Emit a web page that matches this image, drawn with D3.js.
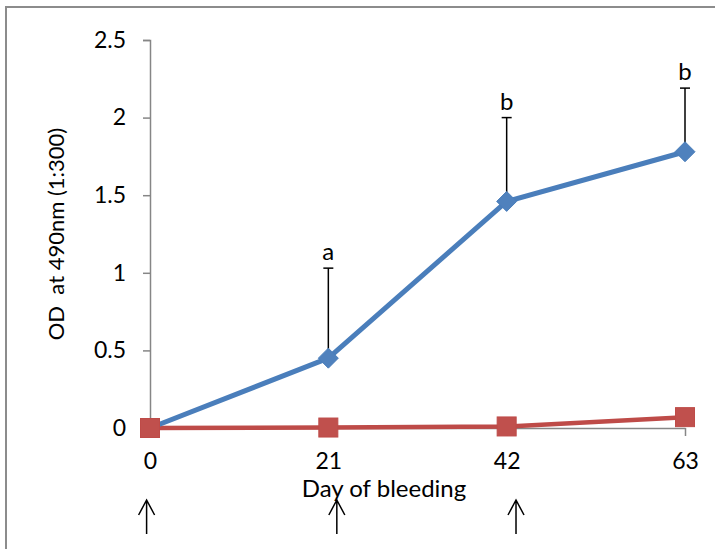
<!DOCTYPE html>
<html>
<head>
<meta charset="utf-8">
<script src="https://cdn.jsdelivr.net/npm/d3@7"></script>
<style>
  html, body { margin: 0; padding: 0; background: #fff; }
  svg { display: block; }
  text { font-family: Lato, "Open Sans", "Liberation Sans", sans-serif; fill: #000; white-space: pre; }
</style>
</head>
<body>
<svg id="chart" width="715" height="549"></svg>
<script>
// ---- data ----
const categories = ["0", "21", "42", "63"];
const immunizedValues = [0, 0.45, 1.46, 1.78];
const immunizedErrorTop = [0, 1.03, 2.0, 2.19];
const significance = ["", "a", "b", "b"];
const controlValues = [0, 0.003, 0.01, 0.07];
const yTicks = [0, 0.5, 1, 1.5, 2, 2.5];
const arrowDays = [-0.4, 22, 43.1];   // immunization arrows (day units, as drawn)
const yTitle = "OD  at 490nm (1:300)";
const xTitle = "Day of bleeding";

// ---- layout ----
const svg = d3.select("#chart");
const plot = { left: 150, right: 685, top: 40, bottom: 428 };
const x = d3.scalePoint().domain(categories).range([plot.left, plot.right]);
const xLin = d3.scaleLinear().domain([0, 63]).range([plot.left, plot.right]);
const y = d3.scaleLinear().domain([0, 2.5]).range([plot.bottom, plot.top]);
const FS = 23;
const gray = "#868686";
const FONT = "Lato, 'Open Sans', sans-serif";

// outer chart border (cropped)
svg.append("path")
  .attr("d", "M6,560 L6,7 L720,7")
  .attr("fill", "none").attr("stroke", "#8c8c8c").attr("stroke-width", 2);

// y axis
const yAxis = d3.axisLeft(y).tickValues(yTicks).tickSize(7).tickPadding(17)
  .tickFormat(d => d3.format("")(d));
const gy = svg.append("g").attr("transform", `translate(${plot.left},0)`).call(yAxis);
gy.select(".domain").attr("stroke", gray).attr("stroke-width", 1.5);
gy.selectAll(".tick line").attr("stroke", gray).attr("stroke-width", 1.5);
gy.selectAll(".tick text").style("font-size", FS + "px")
  .style("font-family", FONT).attr("fill", "#000");

// x axis
const xAxis = d3.axisBottom(x).tickSize(8).tickPadding(17).tickSizeOuter(0);
const gx = svg.append("g").attr("transform", `translate(0,${plot.bottom})`).call(xAxis);
gx.select(".domain").attr("stroke", gray).attr("stroke-width", 1.5);
gx.selectAll(".tick line").attr("stroke", gray).attr("stroke-width", 1.5);
gx.selectAll(".tick text").style("font-size", FS + "px")
  .style("font-family", FONT).attr("fill", "#000");

// axis titles
svg.append("text")
  .attr("transform", `translate(64,234) rotate(-90)`)
  .attr("text-anchor", "middle").style("font-size", (FS - 1) + "px")
  .text(yTitle);
svg.append("text")
  .attr("x", 384).attr("y", 497)
  .attr("text-anchor", "middle").style("font-size", (FS + 1) + "px")
  .text(xTitle);

// error bars (upper only)
const errG = svg.append("g");
categories.forEach((c, i) => {
  if (immunizedErrorTop[i] <= immunizedValues[i]) return;
  const cx = x(c);
  errG.append("line").attr("x1", cx).attr("x2", cx)
    .attr("y1", y(immunizedValues[i])).attr("y2", y(immunizedErrorTop[i]))
    .attr("stroke", "#000").attr("stroke-width", 1.5);
  errG.append("line").attr("x1", cx - 5).attr("x2", cx + 5)
    .attr("y1", y(immunizedErrorTop[i])).attr("y2", y(immunizedErrorTop[i]))
    .attr("stroke", "#000").attr("stroke-width", 1.5);
  if (significance[i]) {
    svg.append("text").attr("x", cx).attr("y", y(immunizedErrorTop[i]) - 8)
      .attr("text-anchor", "middle").style("font-size", (FS + 1) + "px")
      .text(significance[i]);
  }
});

// lines
const line = d3.line().x((d, i) => x(categories[i])).y(d => y(d));
svg.append("path").datum(controlValues).attr("d", line)
  .attr("fill", "none").attr("stroke", "#BE4B48").attr("stroke-width", 4.5)
  .attr("stroke-linejoin", "round");
svg.append("path").datum(immunizedValues).attr("d", line)
  .attr("fill", "none").attr("stroke", "#4A7EBB").attr("stroke-width", 5)
  .attr("stroke-linejoin", "round");

// markers: control squares
const sq = 19;
svg.append("g").selectAll("rect").data(controlValues).join("rect")
  .attr("x", (d, i) => x(categories[i]) - sq / 2)
  .attr("y", d => y(d) - sq / 2)
  .attr("width", sq).attr("height", sq)
  .attr("fill", "#C0504D").attr("stroke", "#BE4B48").attr("stroke-width", 1);

// markers: immunized diamonds (first one is hidden under the square)
const dm = 10;
svg.append("g").selectAll("path")
  .data(immunizedValues.map((v, i) => ({ v, c: categories[i] })).slice(1))
  .join("path")
  .attr("d", d => {
    const cx = x(d.c), cy = y(d.v);
    return `M${cx},${cy - dm} L${cx + dm},${cy} L${cx},${cy + dm} L${cx - dm},${cy} Z`;
  })
  .attr("fill", "#4F81BD").attr("stroke", "#4A7EBB").attr("stroke-width", 1);

// immunization arrows
const arrowTop = 500, arrowBottom = 534;
svg.append("g").selectAll("path").data(arrowDays).join("path")
  .attr("d", d => {
    const ax = xLin(d);
    return `M${ax},${arrowBottom} L${ax},${arrowTop} M${ax - 8},${arrowTop + 15} L${ax},${arrowTop} L${ax + 8},${arrowTop + 15}`;
  })
  .attr("fill", "none").attr("stroke", "#000").attr("stroke-width", 1.5);
</script>
</body>
</html>
